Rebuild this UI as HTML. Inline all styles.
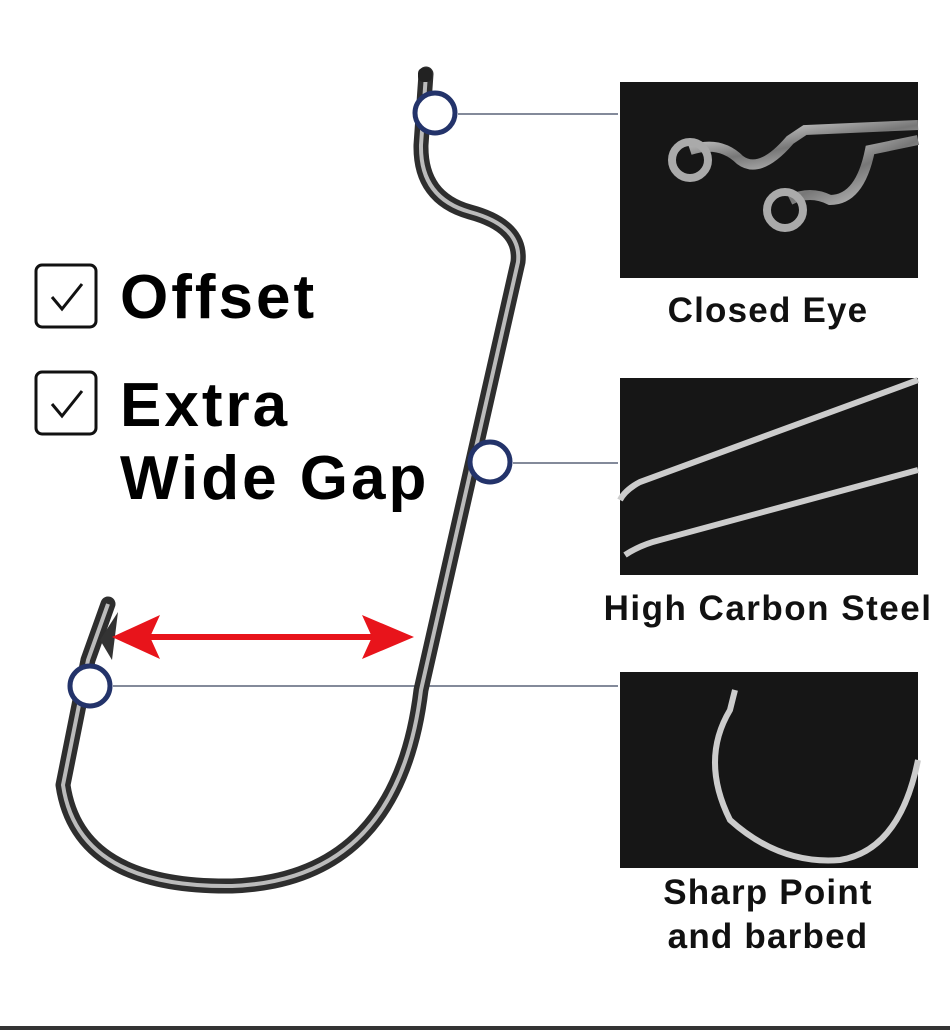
<!DOCTYPE html>
<html><head><meta charset="utf-8"><style>
html,body{margin:0;padding:0;background:#fff;}
body{width:950px;height:1033px;position:relative;overflow:hidden;font-family:"Liberation Sans",sans-serif;}
.t{position:absolute;font-weight:bold;color:#000;white-space:nowrap;letter-spacing:3px;}
.lab{position:absolute;font-weight:bold;font-size:35px;color:#111;text-align:center;width:380px;left:578px;line-height:44px;letter-spacing:1.2px;}
</style></head><body>
<svg width="950" height="1033" style="position:absolute;left:0;top:0">
  <defs>
    <linearGradient id="sv" x1="0" y1="0" x2="1" y2="1">
      <stop offset="0" stop-color="#eee"/><stop offset="0.5" stop-color="#777"/><stop offset="1" stop-color="#ddd"/>
    </linearGradient>
  </defs>
  <line x1="458" y1="114" x2="618" y2="114" stroke="#5a6478" stroke-width="1.5"/>
  <line x1="513" y1="463" x2="618" y2="463" stroke="#5a6478" stroke-width="1.5"/>
  <line x1="113" y1="686" x2="618" y2="686" stroke="#5a6478" stroke-width="1.5"/>
  <path d="M426,74 L421,145 Q420,198 470,212 Q522,226 518,262 L421,690 Q398,880 232,886 Q78,888 63,785 L88,660 L108,604" fill="none" stroke="#2e2e2e" stroke-width="15" stroke-linejoin="round" stroke-linecap="round"/>
  <path d="M426,74 L421,145 Q420,198 470,212 Q522,226 518,262 L421,690 Q398,880 232,886 Q78,888 63,785 L88,660 L108,604" fill="none" stroke="#bbb" stroke-width="4" stroke-linejoin="round"/>
  <rect x="418" y="68" width="14" height="14" rx="5" fill="#222"/>
  <path d="M100,640 L118,612 L112,660 Z" fill="#333"/>
  <line x1="140" y1="637" x2="385" y2="637" stroke="#e8141b" stroke-width="6"/>
  <path d="M112,637 L160,615 L150,637 L160,659 Z" fill="#e8141b"/>
  <path d="M414,637 L362,615 L372,637 L362,659 Z" fill="#e8141b"/>
  <circle cx="435" cy="113" r="20" fill="#fff" stroke="#23336a" stroke-width="5"/>
  <circle cx="490" cy="462" r="20" fill="#fff" stroke="#23336a" stroke-width="5"/>
  <circle cx="90" cy="686" r="20" fill="#fff" stroke="#23336a" stroke-width="5"/>
  <rect x="36" y="265" width="60" height="62" rx="6" fill="none" stroke="#111" stroke-width="3"/>
  <path d="M52,297 L62,309 L82,284" fill="none" stroke="#111" stroke-width="3"/>
  <rect x="36" y="372" width="60" height="62" rx="6" fill="none" stroke="#111" stroke-width="3"/>
  <path d="M52,404 L62,416 L82,391" fill="none" stroke="#111" stroke-width="3"/>
  <rect x="620" y="82" width="298" height="196" fill="#161616"/>
  <path d="M690,150 Q720,140 740,160 Q760,175 790,140 L805,130 L918,125" fill="none" stroke="url(#sv)" stroke-width="10"/>
  <circle cx="690" cy="160" r="18" fill="none" stroke="#aaa" stroke-width="8"/>
  <path d="M790,200 Q810,190 830,200 Q860,200 870,150 L918,140" fill="none" stroke="url(#sv)" stroke-width="10"/>
  <circle cx="785" cy="210" r="18" fill="none" stroke="#aaa" stroke-width="8"/>
  <rect x="620" y="378" width="298" height="197" fill="#161616"/>
  <path d="M620,500 Q625,490 640,482 L918,380" fill="none" stroke="#ccc" stroke-width="6"/>
  <path d="M625,555 Q640,545 660,540 L918,470" fill="none" stroke="#ccc" stroke-width="6"/>
  <rect x="620" y="672" width="298" height="196" fill="#161616"/>
  <path d="M735,690 L730,710 Q700,760 730,820 Q780,865 840,860 Q900,850 918,760" fill="none" stroke="#ccc" stroke-width="6"/>
  <rect x="0" y="1026" width="950" height="4" fill="#333"/>
</svg>
<div class="t" style="left:120px;top:262px;font-size:62px;">Offset</div>
<div class="t" style="left:120px;top:370px;font-size:62px;">Extra</div>
<div class="t" style="left:120px;top:443px;font-size:62px;">Wide Gap</div>
<div class="lab" style="top:289px;">Closed Eye</div>
<div class="lab" style="top:587px;letter-spacing:1.5px;">High Carbon Steel</div>
<div class="lab" style="top:871px;">Sharp Point<br>and barbed</div>
</body></html>
